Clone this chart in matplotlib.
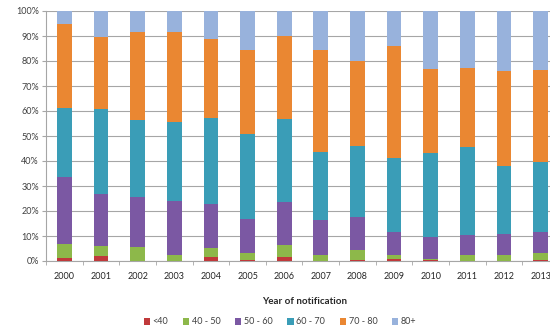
import matplotlib.pyplot as plt
import numpy as np

# Share of notifications by age group, per year (percent)
years = ['2000', '2001', '2002', '2003', '2004', '2005', '2006',
         '2007', '2008', '2009', '2010', '2011', '2012', '2013']
age_groups = ['<40', '40 - 50', '50 - 60', '60 - 70', '70 - 80', '80+']

under40 = [1.2, 2.1, 0.0, 0.0, 1.5, 0.3, 1.5, 0.0, 0.5, 0.8, 0.3, 0.2, 0.2, 0.3]
age40_50 = [5.5, 4.0, 5.5, 2.4, 3.6, 2.8, 4.9, 2.4, 3.9, 1.6, 0.5, 2.2, 2.2, 2.8]
age50_60 = [27.0, 20.6, 20.2, 21.6, 17.7, 13.7, 17.3, 14.0, 13.3, 9.3, 8.9, 8.0, 8.4, 8.4]
age60_70 = [27.6, 34.3, 30.7, 31.5, 34.5, 33.9, 33.0, 27.3, 28.4, 29.6, 33.4, 35.3, 27.3, 28.0]
age70_80 = [33.4, 28.7, 35.1, 36.0, 31.4, 33.7, 33.4, 40.7, 33.9, 44.7, 33.6, 31.6, 37.9, 36.9]
age80_up = [5.3, 10.3, 8.5, 8.5, 11.3, 15.6, 9.9, 15.6, 20.0, 14.0, 23.3, 22.7, 24.0, 23.6]

colors = ['#c0393b', '#8db84a', '#7b58a3', '#3a9db7', '#ea8732', '#98b2dc']

plt.rcParams['font.family'] = ['Lato', 'DejaVu Sans']

fig = plt.figure(figsize=(5.5, 3.32), dpi=100)
# the plot runs slightly past the right edge of the figure
ax = fig.add_axes([46 / 550, 71 / 332, 513 / 550, 250 / 332])

x = np.arange(len(years))
series = [under40, age40_50, age50_60, age60_70, age70_80, age80_up]
bottom = np.zeros(len(years))
for vals, col, lab in zip(series, colors, age_groups):
    vals = np.array(vals)
    ax.bar(x, vals, 0.4, bottom=bottom, color=col, label=lab, zorder=3)
    bottom += vals

ax.set_xlim(-0.5, len(years) - 0.5)
ax.set_ylim(0, 100)
ax.set_yticks(np.arange(0, 101, 10))
ax.set_yticklabels([f'{v}%' for v in range(0, 101, 10)])
ax.set_xticks(x)
ax.set_xticklabels(years)
ax.set_xticks(np.arange(-0.5, len(years), 1), minor=True)

ax.grid(axis='y', color='#a6a6a6', linewidth=0.8, zorder=0)
for side in ['top', 'right']:
    ax.spines[side].set_visible(False)
for side in ['left', 'bottom']:
    ax.spines[side].set_color('#a6a6a6')
    ax.spines[side].set_linewidth(0.8)

ax.tick_params(axis='y', length=3, color='#a6a6a6', labelsize=6.5,
               labelcolor='#404040', pad=2)
ax.tick_params(axis='x', which='major', length=0, labelsize=6.5,
               labelcolor='#262626', pad=8)
ax.tick_params(axis='x', which='minor', length=3, color='#a6a6a6')

ax.set_xlabel('Year of notification', fontsize=7, fontweight='bold',
              color='#262626', labelpad=6)
ax.xaxis.set_label_coords((305 - 46) / 513, -(297 - 261) / 250)

ax.legend(loc='center', bbox_to_anchor=((280 - 46) / 513, -(322 - 261) / 250),
          ncol=6, frameon=False, fontsize=6.5, handlelength=0.7,
          handleheight=0.7, handletextpad=0.3, columnspacing=1.6,
          labelcolor='#404040')

fig.savefig('out.png', dpi=100)
